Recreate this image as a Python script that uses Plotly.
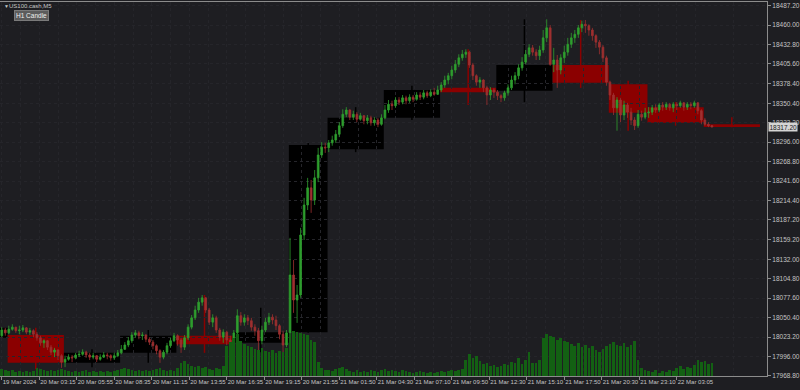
import plotly.graph_objects as go

# ---------------- data ----------------
# 15-minute candles; each spans three 5-minute bars of the M5 chart (x = bar index)
first_open = 18025
close = [
    18033, 18029,
    18034, 18037, 18032, 18033, 18036, 18030, 18032, 18027, 18022, 18015, 18018, 18009, 18002, 18005, 17997, 17988,
    17992, 17995, 17994, 17998, 17999, 18002, 17998, 17995, 17997, 17992, 17995, 17998, 17997, 17994, 17997, 18001,
    18006, 18012, 18018, 18026, 18029, 18025, 18026, 18020, 18016, 18011, 18004, 17995, 18002, 18011, 18018, 18025,
    18019, 18009, 18022, 18037, 18050, 18061, 18072, 18078, 18061, 18044, 18050, 18033, 18023, 18030, 18019, 18013,
    18029, 18053, 18044, 18050, 18046, 18037, 18032, 18018, 18033, 18044, 18051, 18047, 18039, 18027, 18012, 18029,
    18110, 18075, 18082, 18166, 18208, 18232, 18215, 18246, 18278, 18289, 18288,
    18295, 18299, 18307, 18319, 18335, 18341, 18331, 18335, 18328, 18333, 18326, 18330, 18323, 18327, 18321, 18330,
    18341, 18349, 18347, 18355, 18352, 18358, 18354, 18359, 18356, 18362, 18359, 18365, 18361, 18366, 18363, 18369,
    18376, 18383, 18389, 18397, 18405, 18414, 18419, 18422, 18404, 18389, 18380, 18383, 18372, 18362, 18369, 18366,
    18361, 18358, 18365, 18372, 18383, 18389, 18400, 18408, 18419, 18428, 18422, 18417, 18425, 18442, 18456, 18405,
    18411, 18397, 18414, 18422, 18433, 18442, 18447, 18456, 18461, 18459, 18453, 18445, 18436, 18429, 18414, 18380,
    18362, 18344, 18355, 18334, 18348, 18338, 18327, 18319, 18335, 18331, 18337,
    18338, 18344, 18341, 18348, 18345, 18349, 18344, 18349, 18347, 18351, 18345, 18349, 18347, 18351, 18340, 18327,
    18321, 18319, 18317.2,
]
high = [
    18037, 18036,
    18039, 18041, 18037, 18039, 18040, 18037, 18036, 18034, 18030, 18025, 18020, 18019, 18012, 18008, 18006, 17999,
    17997, 17999, 17998, 18001, 18004, 18006, 18004, 18001, 18001, 17998, 17999, 18002, 18001, 17999, 18001, 18005,
    18012, 18016, 18023, 18030, 18033, 18032, 18030, 18027, 18023, 18019, 18013, 18006, 18005, 18015, 18022, 18029,
    18027, 18022, 18026, 18041, 18054, 18067, 18078, 18082, 18079, 18064, 18055, 18053, 18036, 18034, 18032, 18025,
    18033, 18062, 18058, 18055, 18054, 18050, 18041, 18036, 18039, 18050, 18057, 18055, 18053, 18041, 18032, 18033,
    18162, 18131, 18096, 18176, 18218, 18246, 18243, 18257, 18288, 18296, 18295,
    18299, 18305, 18313, 18324, 18342, 18345, 18342, 18340, 18338, 18337, 18334, 18334, 18333, 18331, 18330, 18335,
    18348, 18355, 18354, 18359, 18359, 18362, 18361, 18363, 18362, 18366, 18366, 18369, 18368, 18370, 18372, 18375,
    18380, 18389, 18393, 18403, 18411, 18419, 18425, 18426, 18424, 18407, 18391, 18387, 18384, 18375, 18373, 18372,
    18369, 18363, 18368, 18377, 18389, 18394, 18405, 18415, 18425, 18433, 18432, 18426, 18431, 18453, 18468, 18460,
    18428, 18418, 18419, 18431, 18442, 18449, 18453, 18460, 18466, 18467, 18461, 18456, 18447, 18439, 18432, 18417,
    18382, 18365, 18359, 18358, 18354, 18351, 18344, 18331, 18341, 18340, 18344,
    18345, 18348, 18349, 18351, 18352, 18352, 18351, 18352, 18352, 18354, 18352, 18352, 18352, 18354, 18352, 18342,
    18330, 18324, 18320,
]
low = [
    18023, 18025,
    18027, 18032, 18029, 18027, 18030, 18027, 18026, 18023, 18018, 18011, 18008, 18005, 17998, 17995, 17991, 17980,
    17981, 17990, 17988, 17992, 17995, 17997, 17994, 17991, 17992, 17988, 17990, 17994, 17992, 17990, 17991, 17995,
    17999, 18005, 18009, 18015, 18022, 18020, 18019, 18016, 18012, 18006, 17999, 17987, 17992, 17999, 18008, 18016,
    18011, 18001, 18005, 18019, 18034, 18047, 18057, 18067, 18057, 18040, 18037, 18029, 18018, 18015, 18012, 18009,
    18012, 18026, 18039, 18039, 18040, 18032, 18025, 18005, 18013, 18030, 18040, 18041, 18033, 18020, 18002, 18009,
    18028, 18057, 18043, 18078, 18159, 18201, 18197, 18208, 18240, 18274, 18281,
    18282, 18291, 18295, 18303, 18316, 18331, 18327, 18327, 18324, 18326, 18321, 18321, 18319, 18319, 18317, 18319,
    18328, 18337, 18341, 18344, 18348, 18349, 18349, 18351, 18352, 18354, 18355, 18356, 18358, 18359, 18361, 18362,
    18366, 18372, 18377, 18384, 18393, 18401, 18410, 18414, 18400, 18383, 18375, 18372, 18366, 18348, 18355, 18358,
    18355, 18352, 18354, 18361, 18369, 18377, 18384, 18396, 18405, 18415, 18417, 18411, 18411, 18421, 18436, 18403,
    18394, 18372, 18391, 18407, 18417, 18428, 18435, 18442, 18450, 18449, 18445, 18438, 18428, 18419, 18408, 18375,
    18355, 18334, 18312, 18324, 18327, 18330, 18320, 18313, 18316, 18326, 18328,
    18330, 18334, 18337, 18338, 18340, 18341, 18340, 18338, 18341, 18344, 18340, 18341, 18342, 18344, 18335, 18321,
    18319, 18317, 18317,
]
volume = [
    70, 60,
    50, 60, 40, 50, 40, 50, 40, 50, 80, 70, 60, 50, 60, 50, 60, 70,
    60, 50, 40, 50, 40, 50, 60, 40, 50, 40, 50, 40, 50, 40, 50, 60,
    70, 80, 70, 60, 50, 60, 50, 60, 50, 60, 70, 80, 60, 50, 60, 50,
    80, 130, 150, 120, 100, 90, 100, 80, 90, 70, 60, 80, 70, 100, 300, 340,
    380, 420, 350, 320, 300, 290, 270, 260, 280, 250, 240, 260, 230, 250, 240, 280,
    420, 450, 440, 430, 420, 410, 360, 340, 140, 80, 60,
    60, 50, 70, 80, 90, 70, 50, 40, 60, 40, 50, 40, 60, 50, 40, 60,
    70, 50, 60, 50, 40, 60, 50, 40, 30, 40, 50, 40, 30, 40, 30, 40,
    50, 40, 50, 60, 50, 60, 70, 160, 220, 180, 200, 150, 120, 130, 100, 110,
    90, 100, 120, 110, 140, 130, 180, 120, 160, 240, 130, 130, 160, 380, 420, 400,
    390, 360, 380, 350, 340, 320, 300, 330, 290, 310, 280, 300, 260, 240, 270, 300,
    320, 340, 310, 300, 330, 290, 310, 350, 160, 80, 60,
    50, 40, 60, 30, 50, 40, 60, 50, 80, 100, 70, 90, 80, 110, 160, 140,
    150, 120, 130,
]

# higher-timeframe candle boxes ("H1 Candle" indicator), in M5 bar indices
h4_start = [-42, 6, 54, 102, 150, 198, 246, 279, 327, 375, 423, 471, 519, 552, 600]
h4_end = [6, 54, 102, 150, 198, 246, 279, 327, 375, 423, 471, 519, 552, 600, 648]
h4_open = [18022, 18026, 17987, 18001, 18025, 18015, 18030, 18286, 18330, 18372, 18368, 18404, 18377, 18345, 18321]
h4_high = [18040, 18036, 18006, 18033, 18082, 18064, 18296, 18345, 18375, 18426, 18468, 18467, 18382, 18352, 18331]
h4_low = [18012, 17978, 17981, 17987, 18001, 18002, 18029, 18282, 18327, 18348, 18352, 18372, 18312, 18319, 18317]
h4_close = [18036, 17987, 18001, 18025, 18013, 18030, 18292, 18330, 18369, 18366, 18404, 18379, 18337, 18323, 18317.2]

x_tick_bars = [1, 33, 65, 97, 129, 161, 193, 225, 257, 289, 321, 353, 385, 417, 449, 481, 513, 545, 577]
x_tick_text = ["19 Mar 2024", "20 Mar 03:15", "20 Mar 05:55", "20 Mar 08:35", "20 Mar 11:15",
               "20 Mar 13:55", "20 Mar 16:35", "20 Mar 19:15", "20 Mar 21:55", "21 Mar 01:50",
               "21 Mar 04:30", "21 Mar 07:10", "21 Mar 09:50", "21 Mar 12:30", "21 Mar 15:10",
               "21 Mar 17:50", "21 Mar 20:30", "21 Mar 23:10", "22 Mar 03:05"]
y_tick_vals = [18487.20, 18460.00, 18432.80, 18405.60, 18378.40, 18350.40, 18323.20, 18296.00,
               18268.80, 18241.60, 18214.40, 18187.20, 18159.20, 18132.00, 18104.80, 18077.60,
               18050.40, 18023.20, 17996.00, 17968.80]
y_tick_text = ["%.2f" % v for v in y_tick_vals]
last_price = 18317.20

# ---------------- styling ----------------
BG = "#1e1e22"
GRID = "#25252a"
AXIS = "#8c8c8c"
TXT = "#c4c4c4"
UP = "#2e9e2e"
DOWN = "#9e3030"
BOX_UP = "#000000"
BOX_DN = "#8b0000"
VOL = "#136013"
FONT = "Liberation Sans Narrow, Liberation Sans, Arial, sans-serif"

candle_x = [3 * k + 1 for k in range(len(close))]
opens = [first_open] + close[:-1]

fig = go.Figure()

fig.add_trace(go.Bar(
    x=candle_x, y=volume, yaxis="y2", width=2.3,
    marker=dict(color=VOL, line=dict(width=0)), hoverinfo="skip", showlegend=False,
))

fig.add_trace(go.Candlestick(
    x=candle_x, open=opens, high=high, low=low, close=close,
    increasing=dict(line=dict(color=UP, width=0.8), fillcolor=UP),
    decreasing=dict(line=dict(color=DOWN, width=0.8), fillcolor=DOWN),
    whiskerwidth=0, hoverinfo="skip", showlegend=False,
))

shapes = []
for s, e, o, h, l, c in zip(h4_start, h4_end, h4_open, h4_high, h4_low, h4_close):
    col = BOX_UP if c >= o else BOX_DN
    shapes.append(dict(type="rect", xref="x", yref="y", x0=s, x1=e, y0=o, y1=c,
                       fillcolor=col, line=dict(width=0), layer="below"))
    mid = (s + e) / 2
    shapes.append(dict(type="line", xref="x", yref="y", x0=mid, x1=mid, y0=l, y1=h,
                       line=dict(color=col, width=1.5), layer="below"))

annotations = [
    dict(xref="paper", yref="paper", x=0, y=1, xanchor="left", yanchor="middle",
         xshift=2, yshift=-4, text="▼", showarrow=False,
         font=dict(family=FONT, size=5, color=TXT)),
    dict(xref="paper", yref="paper", x=0, y=1, xanchor="left", yanchor="middle",
         xshift=7, yshift=-4, text="US100.cash,M5", showarrow=False,
         font=dict(family=FONT, size=6, color=TXT)),
    dict(xref="paper", yref="paper", x=0, y=1, xanchor="left", yanchor="top",
         xshift=14, yshift=-8, text="H1 Candle", showarrow=False,
         bgcolor="#5c5c5c", bordercolor="#7a7a7a", borderwidth=1, borderpad=1,
         font=dict(family=FONT, size=6.5, color="#f0f0f0")),
    dict(xref="paper", yref="y", x=1, y=last_price, xanchor="left", yanchor="middle",
         xshift=1, text="%.2f" % last_price, showarrow=False,
         bgcolor="#d4d4d4", borderpad=0.5,
         font=dict(family=FONT, size=6.5, color="#202020")),
]

fig.update_layout(
    width=800, height=390, autosize=False,
    margin=dict(l=0, r=27, t=2, b=14, pad=0),
    paper_bgcolor=BG, plot_bgcolor=BG,
    shapes=shapes, annotations=annotations,
    bargap=0, showlegend=False,
    xaxis=dict(
        range=[-0.51, 654.0], tickmode="array", tickvals=x_tick_bars, ticktext=x_tick_text,
        tickangle=0,
        showgrid=True, gridcolor=GRID, griddash="dot", gridwidth=1,
        minor=dict(tickvals=[17 + 32 * i for i in range(20)], showgrid=True,
                   gridcolor=GRID, griddash="dot", gridwidth=1, ticks=""),
        ticks="outside", ticklen=3, tickcolor=AXIS, tickwidth=1,
        showline=True, linecolor=AXIS, linewidth=1, mirror=True,
        ticklabelposition="outside right",
        tickfont=dict(family=FONT, size=6, color=TXT),
        zeroline=False, rangeslider=dict(visible=False), fixedrange=True,
    ),
    yaxis=dict(
        side="right", range=[17968.6, 18492.2], tickmode="array",
        tickvals=y_tick_vals, ticktext=y_tick_text,
        showgrid=True, gridcolor=GRID, griddash="dot", gridwidth=1,
        ticks="outside", ticklen=3, tickcolor=AXIS, tickwidth=1,
        showline=True, linecolor=AXIS, linewidth=1, mirror=False,
        tickfont=dict(family=FONT, size=6.5, color=TXT),
        zeroline=False, fixedrange=True,
    ),
    yaxis2=dict(overlaying="y", range=[0, 3740], visible=False, fixedrange=True),
)

fig.write_html("out.html", config={"displayModeBar": False})
